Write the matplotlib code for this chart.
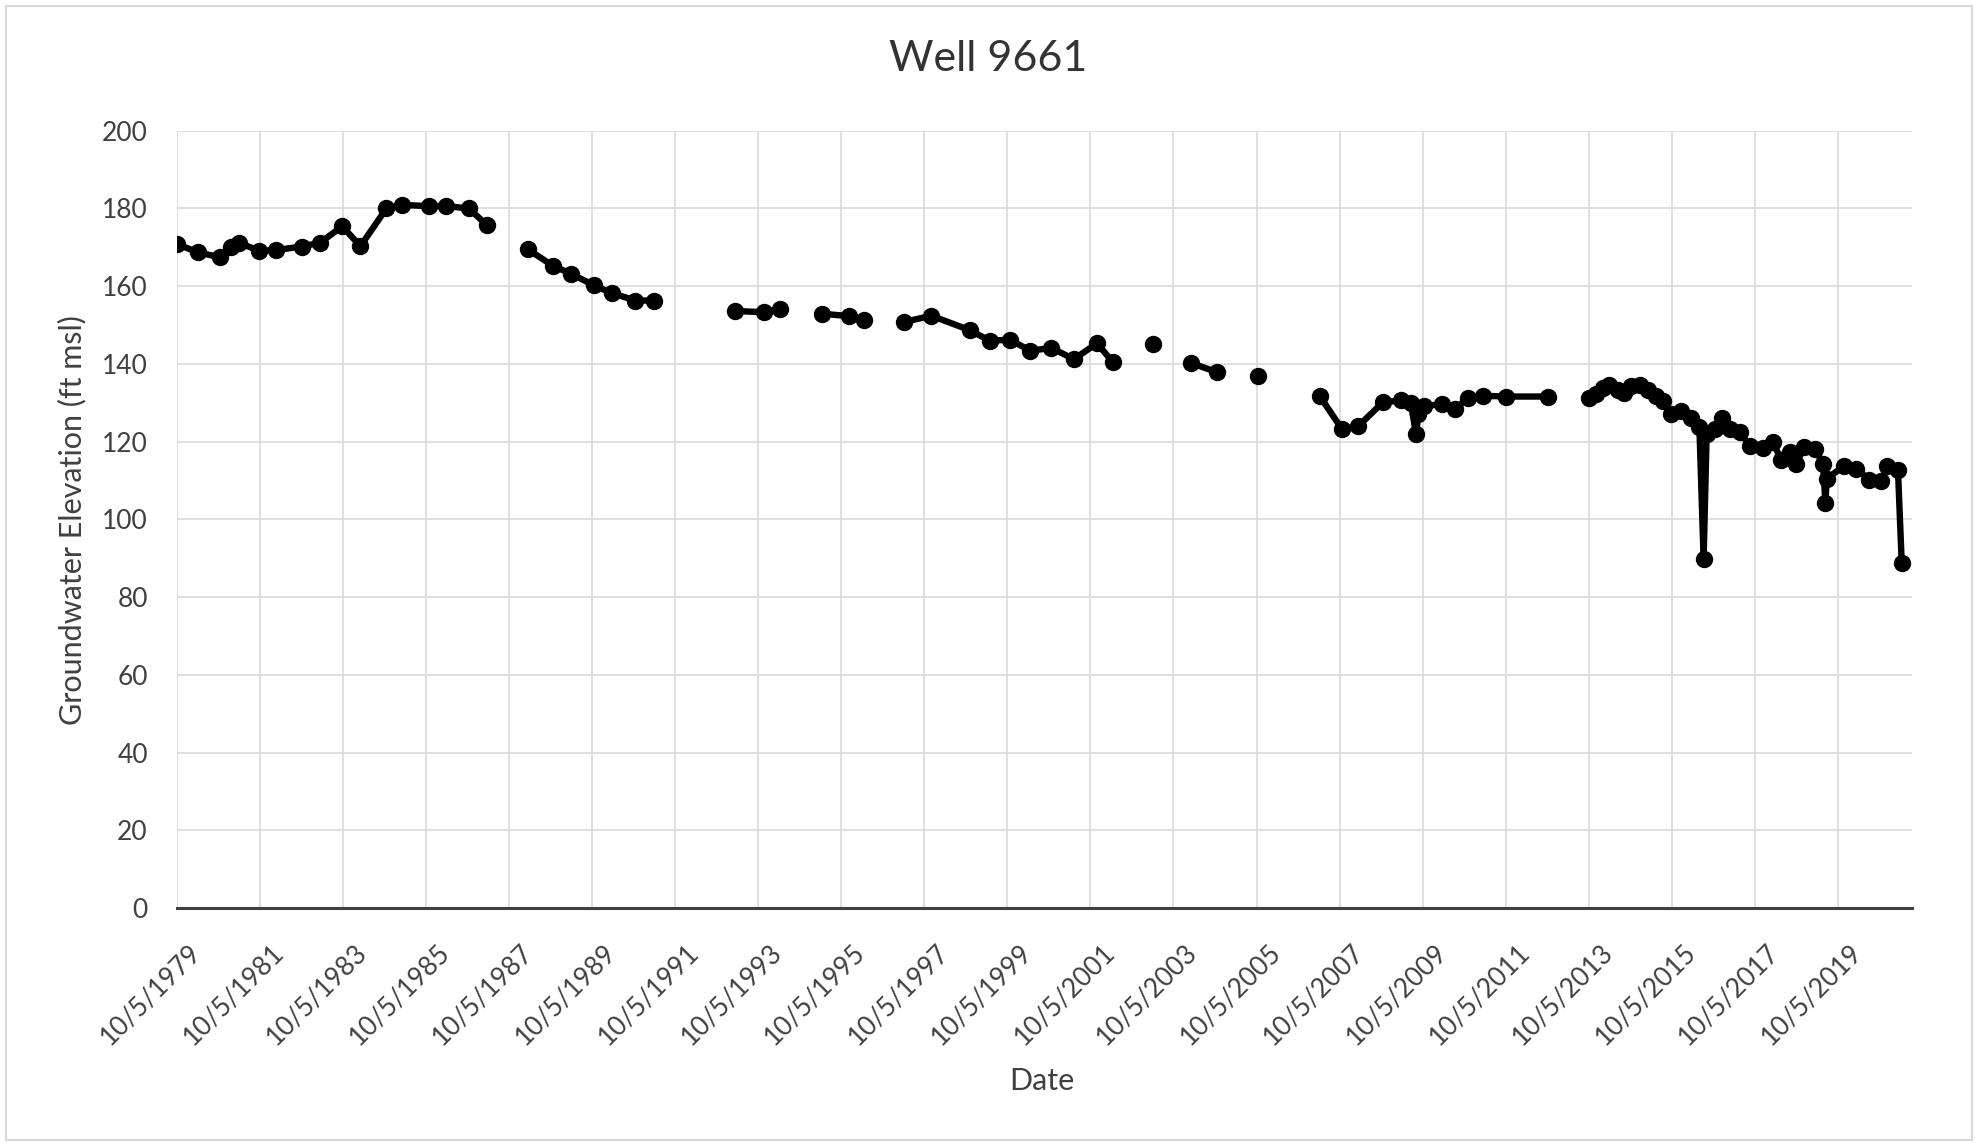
import matplotlib
matplotlib.use("Agg")
import matplotlib.pyplot as plt
import matplotlib.transforms as mtransforms
from matplotlib.patches import Rectangle
import numpy as np
import pandas as pd

# ---------------- data ----------------
title = "Well 9661"
x_label = "Date"
y_label = "Groundwater Elevation (ft msl)"

dates = [
    # segment 0
    "1979-10-05", "1980-04-08", "1980-10-20", "1981-01-18", "1981-04-01", "1981-09-25",
    "1982-02-25", "1982-10-08", "1983-03-18", "1983-09-27", "1984-03-06", "1984-10-20",
    "1985-03-08", "1985-10-27", "1986-04-01", "1986-10-15", "1987-03-20",
    # segment 1
    "1988-03-15", "1988-10-27", "1989-04-01", "1989-10-20", "1990-03-28", "1990-10-20",
    "1991-04-01",
    # segment 2
    "1993-03-18", "1993-11-28", "1994-04-15",
    # segment 3
    "1995-04-22", "1995-12-10", "1996-04-26",
    # segment 4
    "1997-04-12", "1997-12-05", "1998-11-06", "1999-05-01", "1999-10-30", "2000-04-22",
    "2000-10-27", "2001-05-12", "2001-12-01", "2002-04-22",
    # segment 5
    "2003-04-12",
    # segment 6
    "2004-03-10", "2004-10-20",
    # segment 7
    "2005-10-16",
    # segment 8
    "2007-04-12", "2007-10-27", "2008-03-15", "2008-10-20", "2009-03-28", "2009-06-24",
    "2009-08-08", "2009-08-29", "2009-10-20", "2010-03-28", "2010-07-18", "2010-11-06",
    "2011-03-18", "2011-10-08", "2012-10-08",
    # segment 9
    "2013-10-12", "2013-12-10", "2014-02-06", "2014-04-05", "2014-06-18", "2014-08-15",
    "2014-10-12", "2014-12-28", "2015-03-10", "2015-05-22", "2015-07-20", "2015-10-01",
    "2015-12-28", "2016-03-25", "2016-06-05", "2016-07-12", "2016-08-08", "2016-10-20",
    "2016-12-25", "2017-03-01", "2017-05-26", "2017-08-22", "2017-12-15", "2018-03-15",
    "2018-05-26", "2018-08-08", "2018-10-05", "2018-12-15", "2019-03-18", "2019-05-30",
    "2019-06-18", "2019-07-01", "2019-11-25", "2020-03-15", "2020-07-10", "2020-10-20",
    "2020-12-15", "2021-03-18", "2021-04-20",
]

elevation = [
    170.8, 168.7, 167.4, 170.2, 171.2, 169.1,
    169.3, 170.2, 171.2, 175.4, 170.3, 180.0,
    180.9, 180.6, 180.6, 180.0, 175.8,
    169.5, 165.2, 163.2, 160.2, 158.2, 156.3,
    156.3,
    153.6, 153.3, 154.2,
    152.9, 152.3, 151.4,
    150.8, 152.4, 148.7, 146.0, 146.2, 143.4,
    144.1, 141.2, 145.3, 140.4,
    145.2,
    140.2, 137.9,
    136.9,
    131.8, 123.2, 123.9, 130.1, 130.6, 129.9,
    121.9, 127.0, 129.1, 129.7, 128.4, 131.2,
    131.8, 131.6, 131.6,
    131.1, 132.2, 133.9, 134.6, 133.4, 132.6,
    134.3, 134.6, 133.4, 131.7, 130.5, 127.1,
    127.9, 126.2, 123.7, 89.8, 122.0, 123.2,
    126.0, 123.2, 122.4, 119.0, 118.4, 119.8,
    115.3, 117.3, 114.3, 118.7, 118.1, 114.3,
    104.3, 110.5, 113.6, 113.0, 110.2, 109.9,
    113.6, 112.6, 88.8,
]

segment = (
    [0] * 17 + [1] * 7 + [2] * 3 + [3] * 3 + [4] * 10 + [5] * 1 + [6] * 2 + [7] * 1
    + [8] * 15 + [9] * 39
)

tick_dates = [
    "1979-10-05", "1981-10-05", "1983-10-05", "1985-10-05", "1987-10-05", "1989-10-05",
    "1991-10-05", "1993-10-05", "1995-10-05", "1997-10-05", "1999-10-05", "2001-10-05",
    "2003-10-05", "2005-10-05", "2007-10-05", "2009-10-05", "2011-10-05", "2013-10-05",
    "2015-10-05", "2017-10-05", "2019-10-05",
]
tick_labels = [
    "10/5/1979", "10/5/1981", "10/5/1983", "10/5/1985", "10/5/1987", "10/5/1989",
    "10/5/1991", "10/5/1993", "10/5/1995", "10/5/1997", "10/5/1999", "10/5/2001",
    "10/5/2003", "10/5/2005", "10/5/2007", "10/5/2009", "10/5/2011", "10/5/2013",
    "10/5/2015", "10/5/2017", "10/5/2019",
]
y_ticks = [0, 20, 40, 60, 80, 100, 120, 140, 160, 180, 200]
x_range = ["1979-10-05", "2021-07-15"]

# ---------------- figure ----------------
plt.rcParams["font.family"] = ["Lato", "DejaVu Sans"]
W, H = 1982, 1144
fig = plt.figure(figsize=(W / 100, H / 100), dpi=100)
fig.patch.set_facecolor("white")

# chart-area border
fig.add_artist(Rectangle((6 / W, 4 / H), (1972 - 6) / W, (1140 - 6) / H,
                         transform=fig.transFigure, fill=False,
                         edgecolor="#d9d9d9", linewidth=1.5))

left, right, bottom, top = 177, 1911.5, 908, 130.7
ax = fig.add_axes([left / W, 1 - bottom / H, (right - left) / W, (bottom - top) / H])

df = pd.DataFrame({"date": pd.to_datetime(dates), "elev": elevation, "seg": segment})
for _, g in df.groupby("seg"):
    ax.plot(g["date"], g["elev"], color="black", linewidth=4.6,
            marker="o", markersize=11.5, markerfacecolor="black",
            markeredgecolor="black", solid_capstyle="round",
            solid_joinstyle="round", zorder=3)

ax.set_xlim(pd.to_datetime(x_range[0]), pd.to_datetime(x_range[1]))
ax.set_ylim(0, 200)
ax.set_yticks(y_ticks)
ax.set_xticks(pd.to_datetime(tick_dates))
ax.set_xticklabels(tick_labels)

ax.grid(True, color="#d9d9d9", linewidth=1.2, zorder=0)
ax.set_axisbelow(True)
for s in ["top", "right", "left"]:
    ax.spines[s].set_visible(False)
ax.spines["bottom"].set_color("#404040")
ax.spines["bottom"].set_linewidth(2.2)
ax.spines["bottom"].set_zorder(2)

ax.tick_params(axis="both", length=0, labelsize=19, labelcolor="#404040")
ax.tick_params(axis="y", pad=21)
ax.tick_params(axis="x", pad=29)

offset = mtransforms.ScaledTranslation(20 / 100, 0, fig.dpi_scale_trans)
for lab in ax.get_xticklabels():
    lab.set_rotation(45)
    lab.set_ha("right")
    lab.set_va("center")
    lab.set_rotation_mode("anchor")
    lab.set_transform(lab.get_transform() + offset)

fig.text(988 / W, 1 - 59 / H, title, ha="center", va="center",
         fontsize=31, color="#333333")
fig.text(1042 / W, 1 - 1081 / H, x_label, ha="center", va="center",
         fontsize=22, color="#404040")
fig.text(72 / W, 1 - 520 / H, y_label, ha="center", va="center",
         rotation=90, fontsize=22, color="#404040")

fig.savefig("out.png", dpi=100)
